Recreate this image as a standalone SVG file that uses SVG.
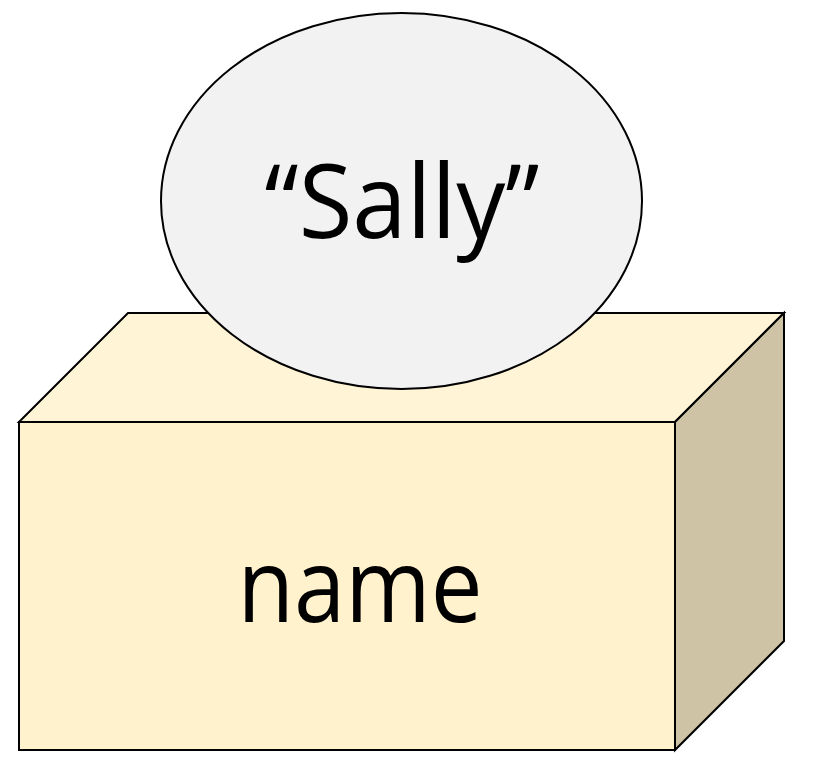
<svg xmlns="http://www.w3.org/2000/svg" width="819" height="770" viewBox="0 0 819 770">
<style>
.edge{stroke:#000;stroke-width:2;stroke-linejoin:miter}
.lbl{font-family:"Open Sans","Noto Sans",sans-serif;font-size:102px;fill:#000;text-anchor:middle}
</style>
<rect width="819" height="770" fill="#fff"/>
<g id="box">
<polygon class="edge" points="19,422 128,313 784,313 675,422" fill="#FFF4D6"/>
<polygon class="edge" points="675,422 784,313 784,641 675,750" fill="#CEC3A5"/>
<rect class="edge" x="19" y="422" width="656" height="328" fill="#FFF2CC"/>
<text class="lbl" x="360" y="622" textLength="245" lengthAdjust="spacingAndGlyphs">name</text>
</g>
<g id="value">
<ellipse class="edge" cx="401.5" cy="201" rx="240.5" ry="188" fill="#F2F2F2"/>
<text class="lbl" x="402" y="238" textLength="275" lengthAdjust="spacingAndGlyphs">“Sally”</text>
</g>
<g id="connectors"/>
</svg>
